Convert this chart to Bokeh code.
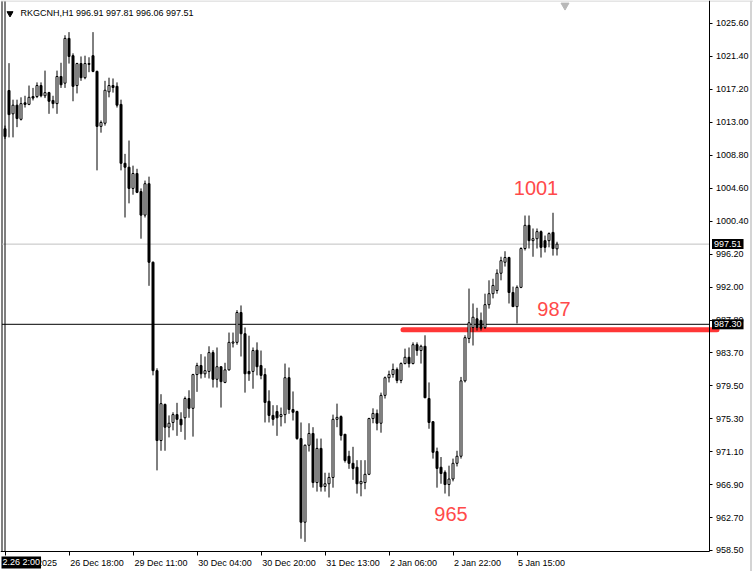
from bokeh.plotting import figure
from bokeh.models import FixedTicker, Label, Range1d, NumeralTickFormatter
from bokeh.core.properties import value
from bokeh.embed import file_html
from bokeh.resources import INLINE

# ---- data (hourly candles) ----
opens = [1012.2, 1017.07, 1014.1, 1015.2, 1013.4, 1015.5, 1015.3, 1016.3, 1016.3, 1017.7,
         1016.4, 1016.8, 1015.8, 1015.4, 1018.85, 1018.0, 1023.7, 1021.5, 1017.7, 1020.5,
         1018.7, 1020.5, 1021.5, 1019.5, 1012.5, 1012.9, 1016.9, 1017.7, 1017.6, 1015.3,
         1007.8, 1007.3, 1004.6, 1006.5, 1004.2, 1001.2, 1005.2, 995.2, 981.4, 972.5,
         977.1, 974.2, 974.8, 975.8, 975.2, 975.4, 977.85, 976.6, 980.9, 982.05,
         981.0, 981.3, 983.7, 980.3, 981.9, 979.9, 981.5, 984.9, 985.0, 988.8,
         986.1, 981.3, 981.3, 984.0, 982.05, 980.9, 977.5, 975.7, 976.2, 975.55,
         975.8, 980.5, 976.45, 976.2, 972.75, 962.1, 971.9, 973.4, 967.15, 971.5,
         966.65, 967.0, 967.8, 975.2, 975.55, 973.3, 970.5, 969.6, 969.1, 967.0,
         967.15, 968.2, 975.3, 975.95, 974.7, 978.25, 980.5, 980.9, 981.55, 980.15,
         982.3, 983.1, 982.3, 984.7, 983.96, 984.5, 977.85, 974.9, 971.1, 969.1,
         968.45, 966.9, 967.6, 969.6, 970.5, 980.1, 985.5, 986.9, 988.0, 987.8,
         986.9, 989.8, 991.2, 991.6, 993.8, 995.2, 995.8, 991.35, 989.55, 992.0,
         996.95, 999.9, 997.95, 998.2, 999.1, 997.95, 997.95, 999.0, 996.91]
highs = [1012.6, 1020.55, 1015.9, 1015.9, 1016.2, 1016.4, 1017.7, 1017.4, 1018.1, 1018.1,
         1019.6, 1016.9, 1016.4, 1019.6, 1020.6, 1024.1, 1024.5, 1021.8, 1020.6, 1021.4,
         1021.5, 1021.3, 1024.5, 1019.6, 1013.25, 1018.3, 1018.7, 1018.6, 1018.1, 1015.9,
         1009.0, 1010.7, 1007.5, 1007.1, 1004.6, 1005.6, 1006.1, 995.3, 981.7, 978.4,
         977.2, 975.7, 976.1, 977.3, 976.1, 978.1, 978.9, 981.0, 982.4, 983.5,
         983.2, 984.5, 984.0, 984.35, 981.9, 982.4, 986.25, 986.25, 989.1, 989.7,
         986.9, 985.85, 984.35, 985.0, 983.96, 981.7, 978.9, 977.0, 977.0, 976.7,
         982.3, 981.8, 978.75, 976.3, 974.8, 972.0, 974.7, 974.2, 972.75, 972.75,
         968.4, 968.4, 975.8, 977.2, 975.7, 973.3, 971.2, 971.7, 970.0, 970.0,
         970.0, 975.4, 976.6, 976.45, 978.6, 980.65, 981.4, 982.3, 981.8, 982.45,
         984.2, 984.35, 985.0, 985.0, 984.7, 985.9, 979.9, 974.95, 971.6, 970.4,
         968.7, 969.3, 970.2, 971.2, 980.6, 985.9, 991.85, 989.95, 989.4, 988.8,
         991.2, 992.9, 993.1, 994.3, 995.9, 996.6, 995.9, 992.1, 992.25, 997.1,
         1001.15, 1001.15, 999.5, 999.5, 999.25, 998.6, 999.0, 1001.5, 997.81]
lows = [1010.9, 1011.1, 1011.1, 1012.4, 1013.25, 1014.9, 1015.2, 1015.8, 1016.1, 1016.2,
        1016.1, 1014.1, 1014.8, 1014.1, 1017.4, 1017.4, 1020.5, 1015.7, 1016.7, 1018.3,
        1018.5, 1019.4, 1019.4, 1006.9, 1011.7, 1012.6, 1016.2, 1016.8, 1014.9, 1006.9,
        1000.9, 1002.7, 1003.8, 1004.0, 998.2, 1000.9, 992.2, 980.8, 968.7, 971.2,
        971.2, 972.9, 973.8, 973.1, 973.6, 972.6, 975.4, 973.0, 978.7, 980.4,
        980.5, 980.4, 979.25, 979.25, 976.7, 979.8, 981.4, 984.35, 984.7, 983.2,
        978.6, 980.1, 979.1, 980.8, 980.3, 974.8, 974.8, 974.4, 973.1, 974.3,
        974.7, 975.9, 975.05, 972.6, 960.0, 959.6, 971.1, 966.5, 966.0, 966.0,
        966.0, 965.25, 966.5, 974.2, 972.5, 969.7, 968.9, 967.5, 965.75, 965.4,
        966.3, 968.1, 974.7, 973.8, 973.5, 977.85, 979.9, 980.5, 979.8, 979.8,
        982.2, 981.8, 982.2, 983.3, 982.3, 977.9, 974.0, 970.2, 966.5, 967.0,
        965.75, 965.4, 967.3, 969.2, 970.2, 979.9, 984.9, 984.6, 986.5, 986.5,
        986.7, 989.3, 990.6, 991.2, 992.9, 994.65, 989.95, 989.5, 987.4, 991.9,
        996.7, 996.95, 995.9, 996.95, 995.8, 996.45, 997.1, 996.05, 996.06]
closes = [1011.2, 1014.0, 1015.2, 1013.5, 1015.4, 1015.3, 1016.2, 1016.1, 1017.7, 1016.4,
          1016.8, 1015.7, 1015.4, 1018.85, 1017.8, 1023.7, 1021.4, 1017.6, 1020.5, 1018.7,
          1020.5, 1020.4, 1019.5, 1012.5, 1013.0, 1017.1, 1017.7, 1017.45, 1015.2, 1007.8,
          1007.3, 1004.6, 1006.5, 1004.1, 1001.2, 1005.2, 995.2, 981.4, 972.5, 977.2,
          974.2, 974.7, 975.8, 975.2, 974.5, 977.85, 976.6, 980.9, 982.05, 981.0,
          981.4, 983.7, 980.3, 981.9, 980.0, 981.5, 985.0, 985.05, 988.8, 986.1,
          981.0, 981.0, 983.96, 981.9, 980.8, 977.35, 975.7, 975.2, 975.4, 975.8,
          980.5, 976.45, 976.1, 972.75, 962.1, 971.9, 973.4, 967.15, 971.5, 966.6,
          967.0, 967.8, 975.2, 975.45, 973.15, 969.96, 969.6, 968.95, 967.0, 967.3,
          968.2, 975.3, 975.95, 974.7, 978.25, 980.5, 980.9, 981.55, 980.15, 982.3,
          983.1, 982.3, 984.7, 983.96, 984.5, 977.95, 974.8, 971.0, 968.95, 968.3,
          966.9, 967.6, 969.6, 970.5, 980.1, 985.6, 987.5, 988.2, 986.9, 986.8,
          989.8, 991.2, 992.25, 993.8, 995.4, 995.8, 991.35, 989.55, 992.0, 996.95,
          999.9, 997.95, 998.2, 999.1, 997.1, 997.1, 998.85, 996.95, 997.51]

time_tick_bars = [0, 16, 32, 48, 64, 80, 96, 112, 128]
time_tick_labels = ["26 Dec 2025", "26 Dec 18:00", "29 Dec 11:00", "30 Dec 04:00",
                    "30 Dec 20:00", "31 Dec 13:00", "2 Jan 06:00", "2 Jan 22:00", "5 Jan 15:00"]
price_ticks = [1025.60, 1021.40, 1017.20, 1013.00, 1008.80, 1004.60, 1000.40, 996.20, 992.00,
               987.80, 983.70, 979.50, 975.30, 971.10, 966.90, 962.70, 958.50]

symbol_title = "RKGCNH,H1  996.91 997.81 996.06 997.51"
bid_price = 997.51
cross_price = 987.30
cross_time_text = "2.26 2:00"
level_price = 986.6
level_from_bar = 99.5
level_to_bar = 178.0
note_texts = ["1001", "987", "965"]
note_bars = [132.75, 137.25, 111.5]
note_prices = [1004.6, 989.2, 963.2]

FONT = "Liberation Sans"
RED_TEXT = "#ff4a4a"
RED_LINE = "#ff3636"

# ---- layout constants (whole canvas is the frame; axes drawn at fixed locations) ----
X0, X1 = -1.125, 187.125          # 4 px per bar, bar i centred at 4.5 + 4 i px
Y0, Y1 = 955.826, 1028.528        # 0.127324 price units per px
AXIS_BAR = 176.0                  # right price axis position
AXIS_PRICE = 958.309              # bottom time axis position
LEFT_EDGE_BAR = -0.75
RIGHT_STRIP_BAR = 186.5
TOP_PRICE = 1028.40
CROSS_BOX_PRICE = 957.74

# ---- derived ----
n = len(opens)
bars = list(range(n))
body_top = [max(o, c) for o, c in zip(opens, closes)]
body_bot = [min(o, c) for o, c in zip(opens, closes)]
body_fill = ["white" if c >= o else "black" for o, c in zip(opens, closes)]

# label centres: text starts just right of each tick (Liberation Sans 9px widths)
em = {" ": .278, ":": .278, ".": .278, "D": .722, "J": .5, "e": .556, "c": .5, "a": .556, "n": .556}
def text_px(s):
    return sum(em.get(ch, .556) for ch in s) * 9
label_centres = [b + round((1 + text_px(t) / 2) / 4 * 8) / 8 for b, t in zip(time_tick_bars, time_tick_labels)]

p = figure(frame_width=753, frame_height=571,
           x_range=Range1d(X0, X1), y_range=Range1d(Y0, Y1),
           y_axis_location="right", x_axis_location="below",
           output_backend="svg", toolbar_location=None, title=None,
           min_border_left=0, min_border_right=0, min_border_top=0, min_border_bottom=0,
           background_fill_color="white", border_fill_color="white",
           outline_line_color=None)

p.xgrid.visible = False
p.ygrid.visible = False

xa = p.xaxis[0]
xa.fixed_location = AXIS_PRICE
xa.bounds = (X0, AXIS_BAR)
xa.ticker = FixedTicker(ticks=label_centres, minor_ticks=time_tick_bars)
xa.major_label_overrides = {c: t for c, t in zip(label_centres, time_tick_labels)}
xa.major_label_text_font = FONT
xa.major_label_text_font_size = "9px"
xa.major_label_text_color = "black"
xa.major_label_standoff = 2
xa.major_tick_in = 0
xa.major_tick_out = 0
xa.minor_tick_in = 0
xa.minor_tick_out = 4
xa.axis_line_color = "black"
xa.minor_tick_line_color = "black"

ya = p.yaxis[0]
ya.fixed_location = AXIS_BAR
ya.bounds = (AXIS_PRICE, Y1)
ya.ticker = FixedTicker(ticks=price_ticks)
ya.formatter = NumeralTickFormatter(format="0.00")
ya.major_label_text_font = FONT
ya.major_label_text_font_size = "9px"
ya.major_label_text_color = "black"
ya.major_tick_in = 0
ya.major_tick_out = 3
ya.minor_tick_in = 0
ya.minor_tick_out = 0
ya.major_label_standoff = 4
ya.axis_line_color = "black"
ya.major_tick_line_color = "black"

# window edges
p.segment(x0=[X0], y0=[Y1 - 0.06], x1=[X1], y1=[Y1 - 0.06], line_color="#c8c8c8", line_width=1)
p.segment(x0=[LEFT_EDGE_BAR], y0=[TOP_PRICE], x1=[LEFT_EDGE_BAR], y1=[AXIS_PRICE],
          line_color="black", line_width=1)
p.segment(x0=[RIGHT_STRIP_BAR], y0=[Y1], x1=[RIGHT_STRIP_BAR], y1=[Y0],
          line_color="#d4d4d4", line_width=2)

# bid line and crosshair
p.segment(x0=[LEFT_EDGE_BAR], y0=[bid_price], x1=[AXIS_BAR], y1=[bid_price],
          line_color="#c0c0c0", line_width=1)
p.segment(x0=[LEFT_EDGE_BAR], y0=[cross_price], x1=[AXIS_BAR], y1=[cross_price],
          line_color="black", line_width=1)

# red support level
p.segment(x0=[level_from_bar], y0=[level_price], x1=[level_to_bar], y1=[level_price],
          line_color=RED_LINE, line_width=5, line_cap="round")

# candles
p.segment(x0=bars, y0=highs, x1=bars, y1=lows, line_color="black", line_width=1)
p.vbar(x=bars, top=body_top, bottom=body_bot, width=0.5,
       fill_color=body_fill, line_color="black", line_width=1)

# vertical crosshair over the first bar
p.segment(x0=[0], y0=[TOP_PRICE], x1=[0], y1=[AXIS_PRICE], line_color="black", line_width=1)

# notes
p.text(x=note_bars, y=note_prices, text=note_texts, text_font=value(FONT),
       text_font_size="20px", text_color=RED_TEXT, text_align="center",
       text_baseline="middle")

# header
p.scatter(x=[1.25], y=[1026.88], marker="inverted_triangle", size=6,
          fill_color="black", line_color="black")
p.text(x=[3.875], y=[1026.88], text=[symbol_title], text_font=value(FONT),
       text_font_size="9px", text_color="black", text_align="left", text_baseline="middle")
p.scatter(x=[140.0], y=[1027.9], marker="inverted_triangle", size=8,
          fill_color="#b8b8b8", line_color="#b8b8b8")

# price boxes on the axis
for pr in [bid_price, cross_price]:
    p.add_layout(Label(x=AXIS_BAR, y=pr, x_offset=3, text=f"{pr:.2f}",
                       text_align="left", text_baseline="middle",
                       text_font=FONT, text_font_size="9px", text_color="white",
                       background_fill_color="black", padding=2))

# crosshair time box
p.add_layout(Label(x=X0, y=CROSS_BOX_PRICE, x_offset=1, text=cross_time_text,
                   text_align="left", text_baseline="top",
                   text_font=FONT, text_font_size="9px", text_color="white",
                   background_fill_color="black", padding=1))

open("out.html", "w").write(file_html(p, INLINE))
